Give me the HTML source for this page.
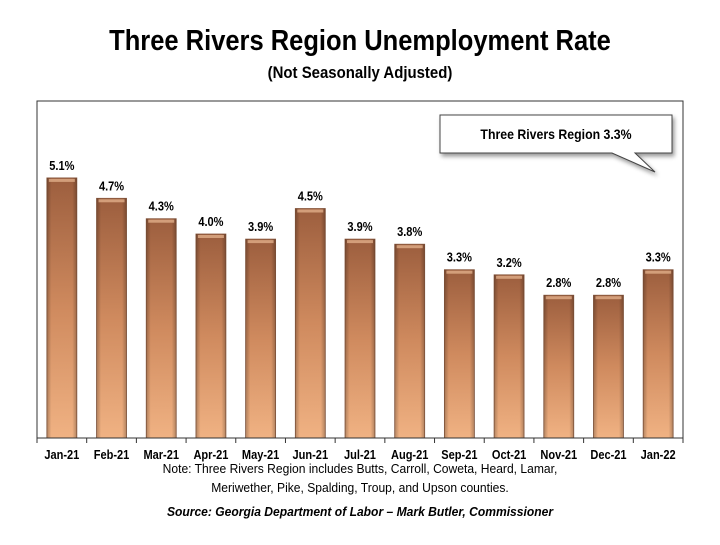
<!DOCTYPE html>
<html><head><meta charset="utf-8"><style>
body{margin:0;width:720px;height:540px;background:#fff;overflow:hidden}
</style></head><body>
<svg width="720" height="540" xmlns="http://www.w3.org/2000/svg" font-family="'Liberation Sans', Arial, sans-serif">
<defs>
<linearGradient id="g" x1="0" y1="0" x2="0" y2="1">
<stop offset="0" stop-color="#9c5e3e"/><stop offset="0.5" stop-color="#cf8a5e"/><stop offset="1" stop-color="#f0b283"/>
</linearGradient>
<linearGradient id="h" x1="0" y1="0" x2="1" y2="0">
<stop offset="0" stop-color="#000" stop-opacity="0.25"/><stop offset="0.15" stop-color="#000" stop-opacity="0"/><stop offset="0.85" stop-color="#000" stop-opacity="0"/><stop offset="1" stop-color="#000" stop-opacity="0.25"/>
</linearGradient>
</defs>
<text x="360" y="50" text-anchor="middle" font-size="29" font-weight="bold" transform="translate(360,0) scale(0.88,1) translate(-360,0)">Three Rivers Region Unemployment Rate</text>
<text x="360" y="78" text-anchor="middle" font-size="17" font-weight="bold" transform="translate(360,0) scale(0.88,1) translate(-360,0)">(Not Seasonally Adjusted)</text>
<rect x="37" y="101" width="646" height="337" fill="none" stroke="#333" stroke-width="1"/>
<g id="bars" font-size="13" font-weight="bold" text-anchor="middle"></g>
<line x1="37" y1="438" x2="683" y2="438" stroke="#333"/>
<polygon points="440,115 672,115 672,153 635,153 655,172 612,153 440,153" fill="#fff" stroke="#444" style="filter:drop-shadow(2px 3px 2px rgba(0,0,0,0.4))"/>
<text x="556" y="139" text-anchor="middle" font-size="14" font-weight="bold" transform="translate(556,0) scale(0.88,1) translate(-556,0)">Three Rivers Region 3.3%</text>
<g font-size="13" text-anchor="middle" transform="translate(360,0) scale(0.93,1) translate(-360,0)">
<text x="360" y="473">Note: Three Rivers Region includes Butts, Carroll, Coweta, Heard, Lamar,</text>
<text x="360" y="492">Meriwether, Pike, Spalding, Troup, and Upson counties.</text>
<text x="360" y="516" font-weight="bold" font-style="italic">Source:  Georgia Department of Labor – Mark Butler, Commissioner</text>
</g>
</svg>
<script>
var d=[["Jan-21",5.1],["Feb-21",4.7],["Mar-21",4.3],["Apr-21",4.0],["May-21",3.9],["Jun-21",4.5],["Jul-21",3.9],["Aug-21",3.8],["Sep-21",3.3],["Oct-21",3.2],["Nov-21",2.8],["Dec-21",2.8],["Jan-22",3.3]];
var g=document.getElementById('bars'),s='',w=646/13;
function T(x,y,t){return '<text x="'+x+'" y="'+y+'" transform="translate('+x+',0) scale(0.85,1) translate('+(-x)+',0)">'+t+'</text>';}
d.forEach(function(v,i){var cx=37+w*(i+0.5),t=438-v[1]*51,x=cx-15;
s+='<rect x="'+x+'" y="'+t+'" width="30" height="'+(438-t)+'" fill="url(#g)" stroke="#8a5a40" stroke-width="0.8"/>';
s+='<rect x="'+x+'" y="'+t+'" width="30" height="'+(438-t)+'" fill="url(#h)"/>';
s+='<rect x="'+(x+2)+'" y="'+(t+1)+'" width="26" height="3" fill="#e9b994" opacity="0.7"/>';
s+=T(cx,t-8,v[1].toFixed(1)+'%');
s+=T(cx,459,v[0]);
s+='<line x1="'+(37+w*i)+'" y1="438" x2="'+(37+w*i)+'" y2="443" stroke="#333"/>';});
s+='<line x1="683" y1="438" x2="683" y2="443" stroke="#333"/>';
g.innerHTML=s;
</script>
</body></html>
